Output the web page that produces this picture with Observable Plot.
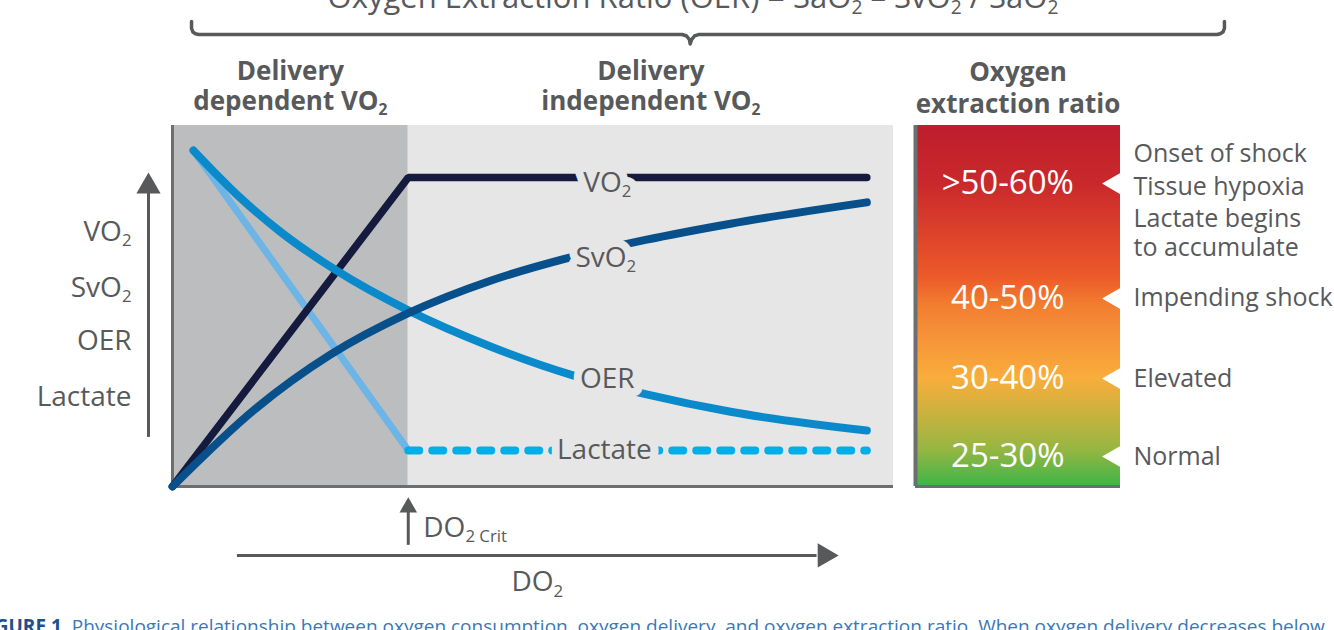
<!DOCTYPE html>
<html>
<head>
<meta charset="utf-8">
<script src="https://cdn.jsdelivr.net/npm/d3@7"></script>
<script src="https://cdn.jsdelivr.net/npm/@observablehq/plot@0.6"></script>
<style>
  html, body { margin: 0; padding: 0; background: #fff; overflow: hidden; }
  #wrap { position: relative; width: 1334px; height: 630px; overflow: hidden; font-family: "Open Sans", sans-serif; color: #58595b; }
  #wrap svg { position: absolute; left: 0; top: 0; overflow: visible; }
  #title { position: absolute; left: 0; width: 1386px; text-align: center; top: -19px; font-size: 31px; line-height: 31px; white-space: nowrap; color: #58595b; }
  .sub { font-size: 0.62em; position: relative; top: 0.3em; }
  #caption { position: absolute; left: -22px; top: 614px; font-size: 19px; line-height: 24px; white-space: nowrap; color: #3a78b8; }
  #caption b { color: #1d4f8f; }
</style>
</head>
<body>
<div id="wrap">
  <div id="title">Oxygen Extraction Ratio (OER) = SaO<span class="sub">2</span> – SvO<span class="sub">2</span> / SaO<span class="sub">2</span></div>
  <div id="caption"><b>FIGURE 1</b>&nbsp; Physiological relationship between oxygen consumption, oxygen delivery, and oxygen extraction ratio. When oxygen delivery decreases below</div>
</div>
<script>
// ---------------- data (arbitrary 0–100 units) ----------------
const do2Crit = 32.7;                       // DO2 at the critical point
const regionLabels = ["Delivery\ndependent VO_2", "Delivery\nindependent VO_2"];

const vo2X = [0, 32.7, 96.3];
const vo2Y = [0, 85.6, 85.6];

const svo2X = [0, 11.5, 21.9, 32.7, 44.1, 55.2, 65.6, 77.4, 96.3];
const svo2Y = [0, 21.5, 36.5, 48.0, 57.0, 63.5, 68.3, 72.8, 78.7];

const oerX = [2.9, 9.4, 15.0, 22.6, 32.7, 44.1, 55.2, 65.6, 77.4, 96.3];
const oerY = [93.1, 80.0, 70.5, 60.0, 48.8, 38.8, 31.0, 25.6, 20.7, 15.5];

const lactateX = [2.9, 32.7];
const lactateY = [93.1, 10.0];
const lactatePlateauX = [32.7, 96.3];
const lactatePlateauY = [10.0, 10.0];

const lineLabels = ["VO_2", "SvO_2", "OER", "Lactate"];
const lineLabelX = [60.3, 60.1, 60.3, 59.9];
const lineLabelY = [84.2, 63.2, 29.9, 10.0];

const leftLabels = ["VO_2", "SvO_2", "OER", "Lactate"];
const leftLevels = [70.4, 55.1, 40.2, 24.9];
const yArrowRange = [13.6, 87.0];
const xArrowRange = [9.0, 92.4];
const xArrowLevel = -19.1;
const critArrowRange = [-16.3, -3.0];

// brace above the chart
const braceX = [2.64, 2.64, 2.84, 3.19, 3.61, 70.7, 71.3, 71.7, 71.8, 72.0, 72.4, 72.96, 144.9, 145.3, 145.7, 145.9, 145.9];
const braceY = [128.8, 126.9, 125.9, 125.4, 125.2, 125.2, 124.8, 123.8, 122.6, 123.8, 124.8, 125.2, 125.2, 125.4, 125.9, 126.9, 128.8];

// oxygen extraction ratio bar
const oerRanges = [">50-60%", "40-50%", "30-40%", "25-30%"];
const oerLevels = [83.9, 52.1, 29.9, 8.3];
const statusLines = ["Onset of shock", "Tissue hypoxia", "Lactate begins", "to accumulate", "Impending shock", "Elevated", "Normal"];
const statusLevels = [92.2, 83.1, 74.0, 66.2, 52.1, 29.9, 8.3];

// ---------------- styling ----------------
const FONT = '"Open Sans", sans-serif';
const TEXT = "#58595b";
const AXIS = "#6d6e70";
const BG2 = "#e6e6e7";
const toPts = (xs, ys) => xs.map((x, i) => ({x, y: ys[i]}));

const regions = regionLabels.map((label, i) => ({
  x1: i === 0 ? 0 : do2Crit, x2: i === 0 ? do2Crit : 100, label
}));

// subscript post-processing: text after "_" becomes a subscript tspan
function subify(svg) {
  const walker = document.createTreeWalker(svg, NodeFilter.SHOW_TEXT);
  const nodes = [];
  while (walker.nextNode()) if (walker.currentNode.nodeValue.includes("_")) nodes.push(walker.currentNode);
  for (const n of nodes) {
    const [before, after] = n.nodeValue.split("_");
    const ns = "http://www.w3.org/2000/svg";
    const t = document.createElementNS(ns, "tspan");
    t.setAttribute("font-size", "0.6em");
    t.setAttribute("dy", "0.3em");
    t.textContent = after;
    const parent = n.parentNode;
    parent.insertBefore(document.createTextNode(before), n);
    parent.insertBefore(t, n);
    parent.removeChild(n);
  }
  return svg;
}

const labelOpts = {x: (d, i) => lineLabelX[i], y: (d, i) => lineLabelY[i], fontSize: 28};

const main = Plot.plot({
  width: 1334, height: 630,
  marginLeft: 172, marginRight: 441, marginTop: 125, marginBottom: 144,
  x: {domain: [0, 100], axis: null},
  y: {domain: [0, 100]},
  style: {fontFamily: FONT, color: TEXT, background: "transparent", overflow: "visible"},
  marks: [
    Plot.rect(regions.slice(0, 1), {x1: "x1", x2: "x2", y1: 0, y2: 100, fill: "#bcbdbf"}),
    Plot.rect(regions.slice(1), {x1: "x1", x2: "x2", y1: 0, y2: 100, fill: BG2}),
    Plot.ruleX([0], {y1: 0, y2: 100, stroke: AXIS, strokeWidth: 3}),
    Plot.ruleY([0], {x1: 0, x2: 100, stroke: AXIS, strokeWidth: 3}),
    // curves (bottom to top)
    Plot.line(toPts(lactateX, lactateY), {x: "x", y: "y", stroke: "#6cb5e6", strokeWidth: 7, strokeLinecap: "round"}),
    Plot.line(toPts(lactatePlateauX, lactatePlateauY), {x: "x", y: "y", stroke: "#00aee8", strokeWidth: 8, strokeLinecap: "round", strokeDasharray: "11 13"}),
    Plot.line(toPts(vo2X, vo2Y), {x: "x", y: "y", stroke: "#151a3f", strokeWidth: 7.5, strokeLinecap: "round", strokeLinejoin: "miter"}),
    Plot.line(toPts(oerX, oerY), {x: "x", y: "y", curve: "monotone-x", stroke: "#0a8acb", strokeWidth: 8, strokeLinecap: "round"}),
    Plot.line(toPts(svo2X, svo2Y), {x: "x", y: "y", curve: "monotone-x", stroke: "#07508b", strokeWidth: 8, strokeLinecap: "round"}),
    // line labels: halo underneath, then text
    Plot.text(lineLabels, {...labelOpts, fill: BG2, stroke: BG2, strokeWidth: 16, strokeLinejoin: "round"}),
    Plot.text(lineLabels, {...labelOpts, fill: TEXT}),
    // left axis labels and arrow
    Plot.axisY({ticks: leftLevels, tickFormat: d => leftLabels[leftLevels.indexOf(d)], tickSize: 0, tickPadding: 41, fontSize: 28, label: null}),
    Plot.ruleX([0], {y1: yArrowRange[0], y2: yArrowRange[1] - 4, dx: -24, stroke: TEXT, strokeWidth: 3}),
    Plot.dot([yArrowRange[1]], {x: 0, y: d => d, dx: -24, dy: 14, symbol: "triangle", r: 9, fill: TEXT}),
    // DO2 crit arrow
    Plot.ruleX([do2Crit], {y1: critArrowRange[0], y2: critArrowRange[1] - 3, stroke: TEXT, strokeWidth: 3}),
    Plot.dot([critArrowRange[1]], {x: do2Crit, y: d => d, dy: 10, symbol: "triangle", r: 6.5, fill: TEXT}),
    Plot.text(["DO_2 Crit"], {x: do2Crit, y: -11.6, dx: 15, textAnchor: "start", fontSize: 28, fill: TEXT}),
    // DO2 axis arrow
    Plot.ruleY([xArrowLevel], {x1: xArrowRange[0], x2: xArrowRange[1] - 3, stroke: TEXT, strokeWidth: 3}),
    Plot.dot([xArrowRange[1]], {x: d => d, y: xArrowLevel, dx: -14, rotate: 90, symbol: "triangle", r: 9, fill: TEXT}),
    Plot.text(["DO_2"], {x: 50.6, y: -26.6, fontSize: 28, fill: TEXT}),
    // region headers
    Plot.text(regions, {x: d => (d.x1 + d.x2) / 2, y: 100, dy: -40, text: "label", fontSize: 26, fontWeight: "bold", lineHeight: 1.17, fill: TEXT}),
    // brace
    Plot.line(toPts(braceX, braceY), {x: "x", y: "y", stroke: TEXT, strokeWidth: 3.5, strokeLinejoin: "round", strokeLinecap: "round"})
  ]
});

function gradientDefs() {
  const ns = "http://www.w3.org/2000/svg";
  const defs = document.createElementNS(ns, "defs");
  const lg = document.createElementNS(ns, "linearGradient");
  lg.setAttribute("id", "oerGradient");
  lg.setAttribute("x1", "0"); lg.setAttribute("y1", "0");
  lg.setAttribute("x2", "0"); lg.setAttribute("y2", "1");
  const stops = [[0, "#be1e2d"], [0.16, "#c9282c"], [0.35, "#e34c2a"], [0.42, "#ec5a29"], [0.5, "#f27e30"],
                 [0.6, "#f6963a"], [0.7, "#f9ad3b"], [0.8, "#c9b23e"], [0.9, "#95b642"], [1, "#3db549"]];
  for (const [o, c] of stops) {
    const s = document.createElementNS(ns, "stop");
    s.setAttribute("offset", o);
    s.setAttribute("stop-color", c);
    lg.appendChild(s);
  }
  defs.appendChild(lg);
  return defs;
}

const bar = Plot.plot({
  width: 1334, height: 630,
  marginLeft: 915, marginRight: 214, marginTop: 125, marginBottom: 144,
  x: {domain: [0, 1], axis: null},
  y: {domain: [0, 100], axis: null},
  style: {fontFamily: FONT, color: TEXT, background: "transparent", overflow: "visible"},
  marks: [
    gradientDefs,
    Plot.rect([0], {x1: 0, x2: 1, y1: 0, y2: 100, fill: "url(#oerGradient)"}),
    Plot.ruleX([0], {y1: 0, y2: 100, stroke: AXIS, strokeWidth: 4}),
    Plot.ruleY([0], {x1: 0, x2: 1, stroke: AXIS, strokeWidth: 3}),
    Plot.dot(oerLevels, {x: 1, y: d => d, dx: -6, rotate: -90, symbol: "triangle", r: 8, fill: "white"}),
    Plot.text(oerRanges, {x: 0.45, y: (d, i) => oerLevels[i], fill: "white", fontSize: 33}),
    Plot.text(statusLines, {x: 1, y: (d, i) => statusLevels[i], dx: 13, textAnchor: "start", fontSize: 25, fill: TEXT}),
    Plot.text(["Oxygen\nextraction ratio"], {x: 0.5, y: 100, dy: -39, fontSize: 26, fontWeight: "bold", lineHeight: 1.23, fill: TEXT})
  ]
});

const wrap = document.getElementById("wrap");
wrap.appendChild(subify(main));
wrap.appendChild(subify(bar));
</script>
</body>
</html>
